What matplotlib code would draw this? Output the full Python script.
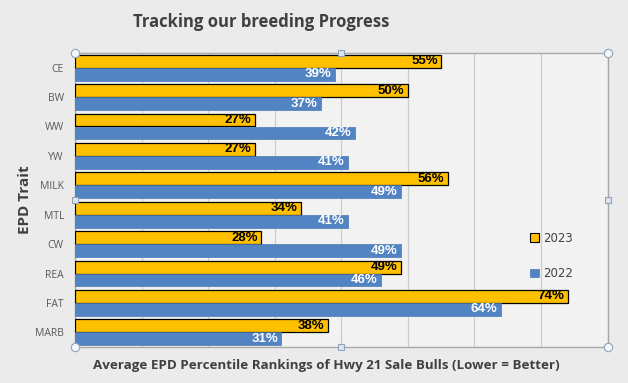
import numpy as np
import matplotlib
matplotlib.use("Agg")
import matplotlib.pyplot as plt
from matplotlib.patches import Patch

# data
traits = ["CE", "BW", "WW", "YW", "MILK", "MTL", "CW", "REA", "FAT", "MARB"]
pct_2023 = [0.55, 0.50, 0.27, 0.27, 0.56, 0.34, 0.28, 0.49, 0.74, 0.38]
pct_2022 = [0.39, 0.37, 0.42, 0.41, 0.49, 0.41, 0.49, 0.46, 0.64, 0.31]
series_names = ["2023", "2022"]

gold = "#FFC000"
blue = "#5283C2"
narrow = ["Liberation Sans", "DejaVu Sans"]
title_font = ["Open Sans", "DejaVu Sans"]

fig = plt.figure(figsize=(6.28, 3.83), dpi=100)
fig.patch.set_facecolor("#EBEBEB")
ax = fig.add_axes([75 / 628, 1 - 347 / 383, 532.5 / 628, 294 / 383])
ax.set_facecolor("#F2F2F2")

y = np.arange(len(traits))
h = 0.44
ax.barh(y - h / 2, pct_2023, height=h, color=gold, edgecolor="black", linewidth=0.9, zorder=3)
ax.barh(y + h / 2, pct_2022, height=h, color=blue, edgecolor="#4A78B0", linewidth=0.5, zorder=3)

for i in range(len(traits)):
    ax.text(pct_2023[i] - 0.005, y[i] - h / 2, "%d%%" % round(pct_2023[i] * 100),
            ha="right", va="center", fontsize=9.5, fontweight="bold",
            family=narrow, color="black", zorder=4)
    ax.text(pct_2022[i] - 0.005, y[i] + h / 2, "%d%%" % round(pct_2022[i] * 100),
            ha="right", va="center", fontsize=9.5, fontweight="bold",
            family=narrow, color="white", zorder=4)

ax.set_xlim(0, 0.8)
ax.set_ylim(len(traits) - 0.5, -0.5)
ax.set_xticks(np.arange(0, 0.81, 0.1))
ax.set_xticklabels([])
ax.tick_params(axis="x", length=0)
ax.grid(axis="x", color="#CDCDCD", linewidth=0.9, zorder=0)
ax.set_yticks(y)
ax.set_yticklabels(traits, fontsize=7.5, color="#595959", family=title_font)
ax.tick_params(axis="y", length=0, pad=8)
for s in ax.spines.values():
    s.set_color("#A8A8A8")
    s.set_linewidth(1.0)

# selection handles of the plot area
for hx, hy in [(0, 0), (0, 1), (1, 0), (1, 1)]:
    ax.plot(hx, hy, "o", ms=6, mfc="#F4F8FC", mec="#8FA3B8", mew=0.8,
            transform=ax.transAxes, clip_on=False, zorder=6)
for hx, hy in [(0.5, 0), (0.5, 1), (0, 0.5), (1, 0.5)]:
    ax.plot(hx, hy, "s", ms=5, mfc="#DCE6F2", mec="#8FA3B8", mew=0.8,
            transform=ax.transAxes, clip_on=False, zorder=6)

handles = [Patch(facecolor=gold, edgecolor="black", linewidth=0.8),
           Patch(facecolor=blue, edgecolor="#4A78B0", linewidth=0.5)]
leg = ax.legend(handles, series_names, loc="center left",
                bbox_to_anchor=(0.835, 0.31), frameon=False,
                fontsize=8.5, handlelength=0.7, handleheight=0.7,
                handletextpad=0.4, labelspacing=1.9)
for t in leg.get_texts():
    t.set_color("#404040")

fig.text(261 / 628, 1 - 22 / 383, "Tracking our breeding Progress", ha="center", va="center",
         fontsize=12, fontweight="bold", color="#404040", family=title_font)
fig.text(326 / 628, 1 - 366 / 383,
         "Average EPD Percentile Rankings of Hwy 21 Sale Bulls (Lower = Better)",
         ha="center", va="center", fontsize=9.6, fontweight="bold", color="#404040",
         family=title_font)
fig.text(25 / 628, 1 - 200 / 383, "EPD Trait", rotation=90, ha="center", va="center",
         fontsize=11, fontweight="bold", color="#404040", family=title_font)

fig.savefig("out.png", dpi=100, facecolor=fig.get_facecolor())
